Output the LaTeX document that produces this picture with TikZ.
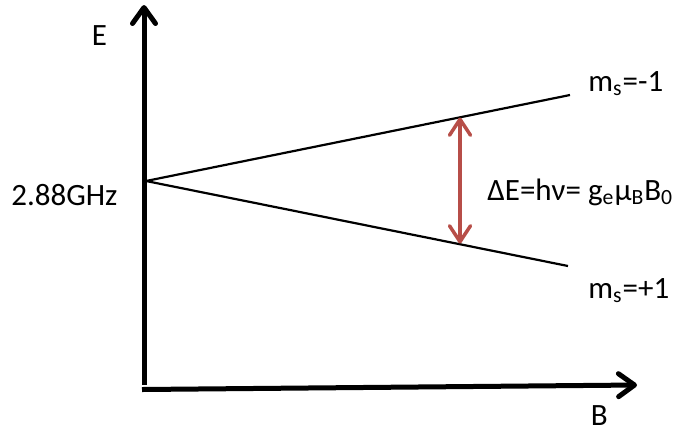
\documentclass[tikz,border=0pt]{standalone}
\usepackage{fontspec}
\setmainfont{Carlito}
\usetikzlibrary{arrows.meta}
\definecolor{transred}{RGB}{183,78,72}

\begin{document}
\begin{tikzpicture}[x=0.5pt, y=-0.5pt, font=\fontsize{15.5}{18}\selectfont,
  ax/.style={line width=2.5pt, -{Straight Barb[round, length=8pt, width=11.5pt]}},
  lvl/.style={line width=1.1pt},
  trans/.style={line width=1.75pt, draw=transred,
    {Straight Barb[round, length=8pt, width=10.5pt]}-{Straight Barb[round, length=8pt, width=10.5pt]}},
  lbl/.style={inner sep=0pt, anchor=base west}]
  \useasboundingbox (0,0) rectangle (674,430);
  % axes
  \coordinate (orig) at (144,385);
  \coordinate (etop) at (144,5);
  \coordinate (borig) at (142,389.5);
  \coordinate (bend) at (637,385);
  \draw[ax] (orig) -- (etop);
  \draw[ax] (borig) -- (bend);
  \node[lbl] (elab) at (91.5,45) {E};
  \node[lbl] (blab) at (590.5,425) {B};
  % zero-field splitting and the two levels
  \coordinate (zf) at (146,181);
  \coordinate (mup) at (570,95);
  \coordinate (mlo) at (568,266);
  \draw[lvl] (zf) -- (mup);
  \draw[lvl] (zf) -- (mlo);
  \node[lbl] (zflab) at (11,205) {2.88GHz};
  \node[lbl] (muplab) at (588,91) {m\textsubscript{s}=-1};
  \node[lbl] (mlolab) at (588,298) {m\textsubscript{s}=+1};
  % transition
  \coordinate (tup) at (460,117.5);
  \coordinate (tlo) at (460,243.5);
  \draw[trans] (tup) -- (tlo);
  \node[lbl] (tlab) at (487,200) {ΔE=hν= g\textsubscript{e}μ\textsubscript{B}B\textsubscript{0}};
\end{tikzpicture}
\end{document}
